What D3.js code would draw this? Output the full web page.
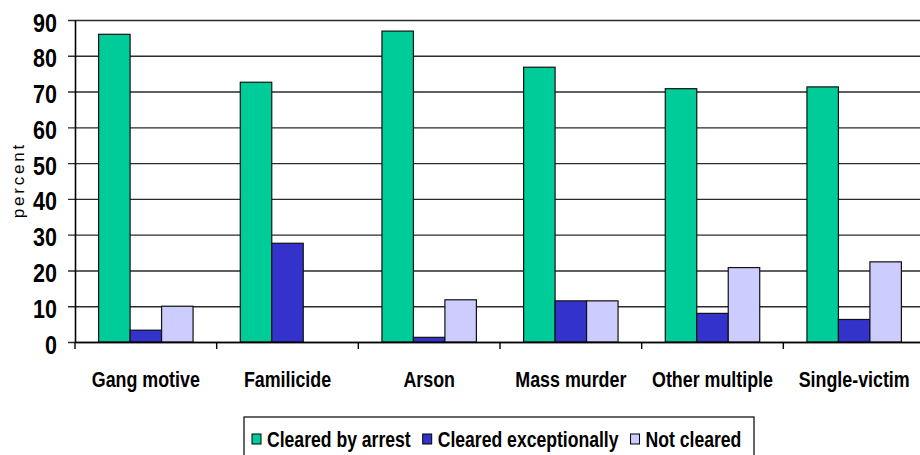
<!DOCTYPE html>
<html>
<head>
<meta charset="utf-8">
<script src="https://cdn.jsdelivr.net/npm/d3@7"></script>
<style>
  html, body { margin: 0; padding: 0; background: #fff; }
  svg { display: block; font-family: "Liberation Sans", Arial, sans-serif; }
</style>
</head>
<body>
<div id="chart_root"></div>
<script>
// values
const categories = ["Gang motive", "Familicide", "Arson", "Mass murder", "Other multiple", "Single-victim"];
const seriesNames = ["Cleared by arrest", "Cleared exceptionally", "Not cleared"];
const clearedByArrest = [86.0, 72.6, 86.9, 76.8, 70.8, 71.3];
const clearedExceptionally = [3.3, 27.6, 1.3, 11.5, 8.0, 6.3];
const notCleared = [10.0, 0, 11.8, 11.5, 20.8, 22.4];
const yTicks = [0, 10, 20, 30, 40, 50, 60, 70, 80, 90];
const colors = ["#00CC99", "#3333CC", "#CCCCFF"];

const W = 920, H = 455;
const margin = { top: 20, left: 75 };
const plotW = 850, plotH = 322;

const svg = d3.select("#chart_root")
    .append("svg")
    .attr("width", W)
    .attr("height", H);

const yAxis = d3.scaleLinear().domain([0, 90]).range([margin.top + plotH, margin.top]);
const xAxis = d3.scaleBand().domain(categories).range([margin.left, margin.left + plotW]).padding(0);
const xSub = d3.scaleBand().domain(seriesNames).range([0, xAxis.bandwidth()]).paddingInner(0).paddingOuter(0.75);

// gridlines (with the small outer tick on the left)
const grid = svg.append("g")
    .attr("transform", "translate(" + (margin.left - 7) + ",0)")
    .call(d3.axisLeft(yAxis).tickValues(yTicks).tickSize(-(plotW + 7)).tickFormat(""));
grid.select(".domain").remove();
grid.selectAll("line").attr("stroke", "#2b2b2b").attr("stroke-width", 1.4);

// bars
const rows = categories.map((c, i) => ({
    cat: c,
    vals: [clearedByArrest[i], clearedExceptionally[i], notCleared[i]]
}));
svg.append("g")
    .selectAll("g")
    .data(rows)
    .enter()
    .append("g")
    .attr("transform", d => "translate(" + xAxis(d.cat) + ",0)")
    .selectAll("rect")
    .data(d => d.vals.map((v, k) => ({ key: seriesNames[k], v: v, k: k })).filter(e => e.v > 0))
    .enter()
    .append("rect")
    .attr("x", d => xSub(d.key))
    .attr("y", d => yAxis(d.v))
    .attr("width", xSub.bandwidth())
    .attr("height", d => yAxis(0) - yAxis(d.v))
    .attr("fill", d => colors[d.k])
    .attr("stroke", "#111")
    .attr("stroke-width", 1.2);

// y axis with labels
const yg = svg.append("g")
    .attr("transform", "translate(" + margin.left + ",0)")
    .call(d3.axisLeft(yAxis).tickValues(yTicks).tickSizeInner(0).tickSizeOuter(0));
yg.select(".domain").attr("stroke", "#000").attr("stroke-width", 1.6);
yg.selectAll("text")
    .attr("x", -21)
    .attr("dy", "0.44em")
    .attr("transform", "scale(0.86,1)")
    .style("font-family", "'Liberation Sans', Arial, sans-serif")
    .style("font-size", "25px")
    .style("font-weight", "bold")
    .attr("fill", "#000");

// x axis: baseline and category labels
const xg = svg.append("g")
    .attr("transform", "translate(0," + (margin.top + plotH) + ")")
    .call(d3.axisBottom(xAxis).tickSizeInner(0).tickSizeOuter(0));
xg.select(".domain").attr("stroke", "#000").attr("stroke-width", 1.6);
xg.selectAll("text")
    .attr("y", 45)
    .attr("dy", 0)
    .attr("transform", "scale(0.83,1)")
    .style("font-family", "'Liberation Sans', Arial, sans-serif")
    .style("font-size", "21.5px")
    .style("font-weight", "bold")
    .attr("fill", "#000");

// category boundary ticks
const bounds = categories.map(c => xAxis(c)).concat([margin.left + plotW]);
xg.selectAll(".bound")
    .data(bounds)
    .enter()
    .append("line")
    .attr("class", "bound")
    .attr("x1", d => d).attr("x2", d => d)
    .attr("y1", 0).attr("y2", 7)
    .attr("stroke", "#000")
    .attr("stroke-width", 1.4);

// y title
svg.append("text")
    .attr("transform", "translate(24,180) rotate(-90)")
    .attr("text-anchor", "middle")
    .style("font-size", "17px")
    .style("letter-spacing", "2.8px")
    .text("percent");

// legend
const legend = svg.append("g");
legend.append("rect")
    .attr("x", 244).attr("y", 417)
    .attr("width", 510).attr("height", 60)
    .attr("fill", "#fff")
    .attr("stroke", "#000")
    .attr("stroke-width", 1.2);
let cx = 252;
seriesNames.forEach((name, k) => {
    legend.append("rect")
        .attr("x", cx).attr("y", 434)
        .attr("width", 9).attr("height", 10)
        .attr("fill", colors[k])
        .attr("stroke", "#000")
        .attr("stroke-width", 1);
    const tx = cx + 15;
    const t = legend.append("text")
        .attr("transform", "translate(" + tx + ",447) scale(0.8,1)")
        .style("font-size", "22px")
        .style("font-weight", "bold")
        .text(name);
    cx = tx + t.node().getComputedTextLength() * 0.8 + 12;
});
</script>
</body>
</html>
